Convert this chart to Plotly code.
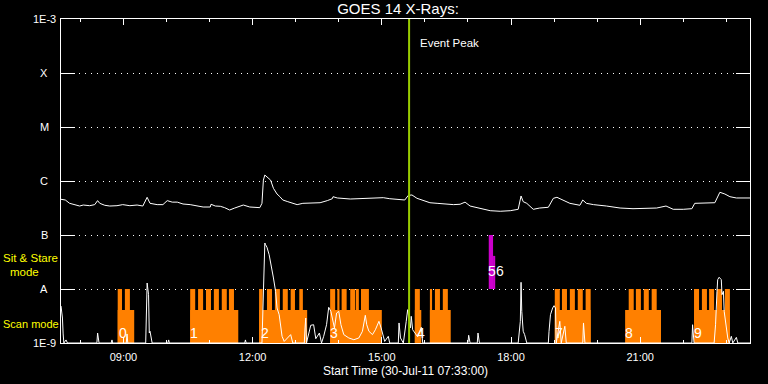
import math
import pandas as pd
import plotly.graph_objects as go

DATE = "2011-07-30"
X_START, X_END = "07:33", "23:33"
EVENT_PEAK = "15:38"

# ---- main GOES flux (upper white curve) ----
flux_times = [
    "07:33", "07:39", "07:45", "07:52", "07:59", "08:04", "08:13", "08:20", "08:24", "08:27",
    "08:34", "08:41", "08:51", "08:59", "09:09", "09:19", "09:27", "09:33", "09:37", "09:47",
    "09:55", "10:01", "10:08", "10:15", "10:23", "10:33", "10:42", "10:51", "11:01", "11:02",
    "11:08", "11:15", "11:21", "11:28", "11:35", "11:42", "11:47", "11:56", "12:10", "12:13",
    "12:15", "12:17", "12:21", "12:25", "12:29", "12:34", "12:38", "12:42", "12:49", "12:56",
    "13:02", "13:10", "13:24", "13:34", "13:44", "13:51", "13:52", "13:58", "14:16", "14:34",
    "14:53", "15:02", "15:11", "15:21", "15:32", "15:37", "15:42", "15:49", "15:58", "16:07",
    "16:17", "16:26", "16:40", "16:49", "16:56", "17:03", "17:17", "17:31", "17:45", "17:59",
    "18:10", "18:14", "18:17", "18:22", "18:31", "18:40", "18:52", "18:59", "19:04", "19:13",
    "19:22", "19:36", "19:40", "19:45", "19:55", "20:13", "20:32", "20:50", "21:09", "21:23",
    "21:36", "21:46", "22:00", "22:12", "22:16", "22:28", "22:44", "22:51", "22:58", "23:05",
    "23:14", "23:33",
]
flux_values = [
    4.58e-7, 4.45e-7, 3.86e-7, 3.59e-7, 3.44e-7, 3.59e-7, 3.49e-7, 3.65e-7, 4.33e-7, 3.86e-7,
    3.55e-7, 3.44e-7, 3.49e-7, 3.65e-7, 3.49e-7, 3.59e-7, 3.44e-7, 4.99e-7, 3.86e-7, 3.65e-7,
    3.65e-7, 4.33e-7, 4.06e-7, 4.06e-7, 3.75e-7, 3.65e-7, 3.44e-7, 3.30e-7, 3.30e-7, 3.71e-7,
    3.44e-7, 3.40e-7, 3.21e-7, 2.90e-7, 3.16e-7, 3.44e-7, 3.59e-7, 3.30e-7, 3.21e-7, 3.86e-7,
    1.04e-6, 1.29e-6, 1.17e-6, 1.04e-6, 7.32e-7, 5.74e-7, 5.12e-7, 4.45e-7, 4.14e-7, 3.86e-7,
    3.65e-7, 3.86e-7, 3.86e-7, 3.96e-7, 4.33e-7, 4.70e-7, 5.12e-7, 4.85e-7, 4.64e-7, 4.70e-7,
    4.85e-7, 4.91e-7, 4.70e-7, 4.58e-7, 4.45e-7, 5.43e-7, 5.51e-7, 4.78e-7, 4.33e-7, 3.96e-7,
    3.86e-7, 3.75e-7, 3.65e-7, 3.71e-7, 4.06e-7, 3.44e-7, 3.07e-7, 2.82e-7, 2.75e-7, 2.82e-7,
    2.99e-7, 5.28e-7, 4.14e-7, 3.86e-7, 2.99e-7, 3.16e-7, 3.26e-7, 4.78e-7, 4.99e-7, 4.45e-7,
    3.86e-7, 3.55e-7, 4.45e-7, 3.86e-7, 3.65e-7, 3.44e-7, 3.16e-7, 3.07e-7, 3.07e-7, 3.16e-7,
    3.44e-7, 2.99e-7, 2.99e-7, 3.07e-7, 3.86e-7, 3.86e-7, 3.96e-7, 6.18e-7, 5.74e-7, 5.12e-7,
    4.85e-7, 4.85e-7,
]

# ---- lower white curve (spiky channel) ----
low_times = [
    "07:33", "07:35", "07:36", "07:37", "07:40", "07:42", "08:23", "08:24", "08:25", "08:26",
    "08:43", "08:44", "08:45", "09:04", "09:05", "09:06", "09:31", "09:32", "09:33", "09:35",
    "09:36", "09:37", "09:39", "09:40", "10:02", "10:03", "10:04", "11:49", "11:50", "11:51",
    "12:13", "12:17", "12:18", "12:20", "12:23", "12:26", "12:29", "12:32", "12:34", "12:37",
    "12:39", "12:41", "12:44", "12:48", "12:53", "12:56", "13:05", "13:12", "13:13", "13:14",
    "13:15", "13:21", "13:25", "13:28", "13:33", "13:36", "13:39", "13:43", "13:46", "13:49",
    "13:51", "13:54", "13:57", "14:00", "14:03", "14:07", "14:14", "14:21", "14:28", "14:33",
    "14:37", "14:39", "14:42", "14:47", "14:51", "14:56", "14:59", "15:04", "15:09", "15:11",
    "15:23", "15:24", "15:26", "15:30", "15:34", "15:36", "15:40", "15:41", "15:43", "15:50",
    "15:55", "15:57", "17:00", "17:01", "17:03", "17:13", "17:14", "17:16", "18:10", "18:13",
    "18:14", "18:15", "18:17", "18:19", "18:22", "18:52", "18:53", "18:55", "18:58", "19:00",
    "19:02", "19:03", "19:08", "19:10", "19:15", "19:17", "19:40", "19:41", "19:43", "22:12",
    "22:13", "22:15", "22:43", "22:45", "22:47", "22:48", "22:50", "22:53", "22:54", "22:56",
    "22:57", "23:00", "23:02", "23:04", "23:07", "23:09", "23:14", "23:16", "23:33",
]
low_values = [
    4.84e-9, 2.90e-9, 1.47e-9, 1.0e-9, 1.14e-9, 1.0e-9, 1.0e-9, 1.53e-9, 1.24e-9, 1.0e-9,
    1.0e-9, 1.14e-9, 1.0e-9, 1.0e-9, 1.47e-9, 1.0e-9, 1.0e-9, 3.59e-9, 1.29e-8, 7.84e-9,
    1.53e-9, 1.65e-9, 1.27e-9, 1.0e-9, 1.0e-9, 1.14e-9, 1.0e-9, 1.0e-9, 1.14e-9, 1.0e-9,
    1.0e-9, 7.11e-8, 6.61e-8, 5.92e-8, 4.32e-8, 2.82e-8, 1.60e-8, 9.06e-9, 4.45e-9, 3.34e-9,
    1.90e-9, 1.33e-9, 1.07e-9, 1.24e-9, 1.43e-9, 1.0e-9, 1.0e-9, 1.0e-9, 1.90e-9, 2.90e-9,
    1.0e-9, 2.13e-9, 2.18e-9, 1.2e-9, 1.53e-9, 1.0e-9, 1.33e-9, 2.18e-9, 4.58e-9, 3.86e-9,
    2.90e-9, 1.90e-9, 3.59e-9, 3.86e-9, 2.18e-9, 1.43e-9, 1.24e-9, 1.15e-9, 1.24e-9, 1.65e-9,
    3.26e-9, 2.18e-9, 1.65e-9, 1.43e-9, 1.76e-9, 2.52e-9, 1.90e-9, 1.07e-9, 1.33e-9, 1.0e-9,
    1.0e-9, 2.35e-9, 1.24e-9, 1.0e-9, 2.52e-9, 4.14e-9, 1.90e-9, 3.12e-9, 1.76e-9, 1.3e-9,
    1.95e-9, 1.0e-9, 1.0e-9, 1.39e-9, 1.0e-9, 1.0e-9, 1.53e-9, 1.0e-9, 1.0e-9, 2.52e-9,
    1.33e-8, 3.86e-9, 1.65e-9, 1.43e-9, 1.0e-9, 1.0e-9, 1.65e-9, 3.34e-9, 4.45e-9, 4.91e-9,
    4.45e-9, 1.0e-9, 2.52e-9, 1.0e-9, 2.04e-9, 1.0e-9, 1.0e-9, 2.35e-9, 1.0e-9, 1.0e-9,
    2.18e-9, 1.0e-9, 1.0e-9, 2.18e-9, 9.06e-9, 1.49e-8, 1.65e-8, 1.49e-8, 7.84e-9, 9.06e-9,
    3.86e-9, 1.90e-9, 1.24e-9, 1.0e-9, 1.33e-9, 1.0e-9, 1.27e-9, 1.0e-9, 1.0e-9,
]

# ---- scan mode blocks (orange) ----
scan_base_start = ["08:52", "10:33", "12:09", "13:48", "15:46", "16:07", "19:01", "20:39", "22:15"]
scan_base_end = ["09:15", "11:40", "13:16", "15:00", "15:55", "16:36", "19:51", "21:29", "23:05"]
SCAN_BASE_LEVEL = 4.1e-9
scan_spike_start = [
    "08:52", "09:02",
    "10:33", "10:44", "10:55", "11:06", "11:17", "11:27",
    "12:09", "12:20", "12:31", "12:42", "12:53", "13:05",
    "13:48", "13:58", "14:04", "14:16", "14:24", "14:31",
    "15:46",
    "16:07", "16:14", "16:25",
    "19:01", "19:11", "19:22", "19:33", "19:44",
    "20:44", "20:54", "21:05", "21:16",
    "22:15", "22:26", "22:36", "22:47", "22:58",
]
scan_spike_end = [
    "08:58", "09:09",
    "10:40", "10:51", "11:02", "11:13", "11:24", "11:34",
    "12:14", "12:27", "12:38", "12:49", "12:59", "13:10",
    "13:55", "14:01", "14:11", "14:23", "14:28", "14:42",
    "15:53",
    "16:10", "16:21", "16:32",
    "19:08", "19:18", "19:29", "19:40", "19:51",
    "20:51", "21:01", "21:12", "21:23",
    "22:22", "22:33", "22:43", "22:54", "23:05",
]
SCAN_SPIKE_LEVEL = 1e-8

# ---- sit & stare (magenta) ----
stare_start = ["17:29", "17:35"]
stare_end = ["17:35", "17:38"]
stare_top = [1e-7, 4.1e-8]
STARE_BASE = 1e-8

# ---- block labels ----
block_labels = ["0", "1", "2", "3", "4", "5", "6", "7", "8", "9"]
block_label_times = ["08:59", "10:39", "12:17", "13:53", "15:55", "17:34", "17:45", "19:07", "20:44", "22:21"]
block_label_levels = [1.53e-9, 1.53e-9, 1.53e-9, 1.53e-9, 1.53e-9, 2.15e-8, 2.15e-8, 1.53e-9, 1.53e-9, 1.53e-9]

# ---- y axis labels ----
y_tick_vals = [1e-3, 1e-4, 1e-5, 1e-6, 1e-7, 1e-8, 1e-9]
y_tick_text = ["1E-3", "X", "M", "C", "B", "A", "1E-9"]

ORANGE = "#ff8000"
MAGENTA = "#cc00cc"
GREEN = "#99cc00"
YELLOW = "#ffff00"
FONT = "Liberation Sans"

assert len(flux_times) == len(flux_values)
assert len(low_times) == len(low_values)


def full(t):
    return f"{DATE} {t}"


def dur_ms(s, e):
    return (pd.Timestamp(full(e)) - pd.Timestamp(full(s))).total_seconds() * 1000


fig = go.Figure()

fig.add_trace(go.Bar(
    x=[full(s) for s in scan_base_start],
    y=[SCAN_BASE_LEVEL] * len(scan_base_start),
    width=[dur_ms(s, e) for s, e in zip(scan_base_start, scan_base_end)],
    offset=0, marker_color=ORANGE, marker_line_width=0, hoverinfo="skip",
))
fig.add_trace(go.Bar(
    x=[full(s) for s in scan_spike_start],
    y=[SCAN_SPIKE_LEVEL] * len(scan_spike_start),
    width=[dur_ms(s, e) for s, e in zip(scan_spike_start, scan_spike_end)],
    offset=0, marker_color=ORANGE, marker_line_width=0, hoverinfo="skip",
))
fig.add_trace(go.Bar(
    x=[full(s) for s in stare_start],
    y=[t - STARE_BASE for t in stare_top],
    base=[STARE_BASE] * len(stare_start),
    width=[dur_ms(s, e) for s, e in zip(stare_start, stare_end)],
    offset=0, marker_color=MAGENTA, marker_line_width=0, hoverinfo="skip",
))

fig.add_trace(go.Scatter(
    x=[full(t) for t in low_times], y=low_values, mode="lines",
    line=dict(color="white", width=1), hoverinfo="skip",
))
fig.add_trace(go.Scatter(
    x=[full(t) for t in flux_times], y=flux_values, mode="lines",
    line=dict(color="white", width=1), hoverinfo="skip",
))
fig.add_trace(go.Scatter(
    x=[full(EVENT_PEAK)] * 2, y=[1e-9, 1e-3], mode="lines",
    line=dict(color=GREEN, width=2), hoverinfo="skip",
))

annotations = []
for txt, v in zip(y_tick_text, y_tick_vals):
    annotations.append(dict(
        text=txt, xref="paper", x=-0.024, xanchor="center",
        yref="y", y=math.log10(v), yanchor="middle", showarrow=False,
        font=dict(family=FONT, size=11, color="white"),
    ))
for txt, t, v in zip(block_labels, block_label_times, block_label_levels):
    annotations.append(dict(
        text=txt, x=full(t), y=math.log10(v), xref="x", yref="y",
        xanchor="center", yanchor="middle", showarrow=False, borderpad=0,
        font=dict(family=FONT, size=14, color="white"),
    ))
annotations.append(dict(
    text="Event Peak", x=full(EVENT_PEAK), xshift=9, xanchor="left",
    y=-3.444, yref="y", yanchor="middle", showarrow=False,
    font=dict(family=FONT, size=11.5, color="white"),
))
annotations += [
    dict(text="Sit & Stare", xref="paper", x=-0.0856, xanchor="left", yref="y", y=-7.42,
         yanchor="middle", showarrow=False, borderpad=0,
         font=dict(family=FONT, size=11.5, color=YELLOW)),
    dict(text="mode", xref="paper", x=-0.0530, xanchor="center", yref="y", y=-7.69,
         yanchor="middle", showarrow=False, borderpad=0,
         font=dict(family=FONT, size=11.5, color=YELLOW)),
    dict(text="Scan mode", xref="paper", x=-0.0856, xanchor="left", yref="y", y=-8.648,
         yanchor="middle", showarrow=False, borderpad=0,
         font=dict(family=FONT, size=11, color=YELLOW)),
]

fig.update_layout(
    width=768, height=384,
    margin=dict(l=61, r=18, t=19, b=41, autoexpand=False),
    paper_bgcolor="black", plot_bgcolor="black",
    showlegend=False, barmode="overlay",
    title=dict(text="GOES 14 X-Rays:", x=398 / 768, xanchor="center", y=1 - 9 / 384,
               yanchor="middle", font=dict(family=FONT, size=15, color="white")),
    annotations=annotations,
    font=dict(family=FONT, color="white"),
)
fig.update_xaxes(
    type="date", range=[full(X_START), full(X_END)], automargin=False,
    showgrid=False, zeroline=False,
    showline=True, linecolor="white", linewidth=1, mirror="ticks",
    ticks="inside", ticklen=6, tickcolor="white", tickwidth=1,
    tick0=f"{DATE} 00:00", dtick=3 * 3600 * 1000, tickformat="%H:%M",
    tickfont=dict(family=FONT, size=11, color="white"), ticklabelstandoff=4,
    minor=dict(dtick=3600 * 1000, ticks="inside", ticklen=3, tickcolor="white", showgrid=False),
    title=dict(text="Start Time (30-Jul-11 07:33:00)", standoff=4,
               font=dict(family=FONT, size=12, color="white")),
)
fig.update_yaxes(
    type="log", range=[-9, -3], automargin=False,
    tickvals=y_tick_vals, showticklabels=False,
    ticks="inside", ticklen=14, tickcolor="white", tickwidth=1,
    showline=True, linecolor="white", linewidth=1, mirror="ticks",
    showgrid=True, gridcolor="white", gridwidth=1, griddash="1px,5px",
    zeroline=False,
)

fig.write_html("out.html", config={"displayModeBar": False},
               post_script="document.body.style.margin='0';")
